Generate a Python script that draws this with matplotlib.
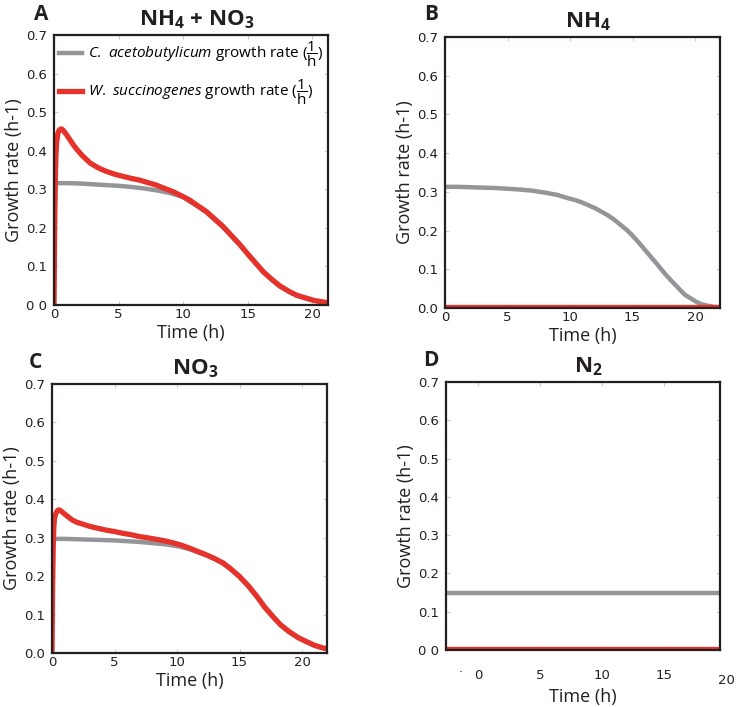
import numpy as np
import matplotlib
matplotlib.use("Agg")
import matplotlib.pyplot as plt

#################################################################
# data
#################################################################

# A: NH4 + NO3
tA_ca = [0, 1, 2, 3, 4, 5, 6, 7, 8, 9, 10, 10.5, 11.1, 11.8, 12.4, 13.1, 13.7, 14.4, 15.0, 15.6, 16.2, 16.9, 17.5, 18.2, 18.8, 19.5, 20.1, 20.8, 21.2]
gA_ca = [0.316, 0.316, 0.315, 0.313, 0.311, 0.309, 0.306, 0.302, 0.297, 0.290, 0.280, 0.268, 0.256, 0.240, 0.222, 0.201, 0.180, 0.155, 0.131, 0.108, 0.085, 0.064, 0.048, 0.034, 0.024, 0.017, 0.011, 0.007, 0.005]
tA_ws = [0, 0.05, 0.1, 0.15, 0.2, 0.3, 0.4, 0.5, 0.6, 0.7, 0.85, 1.0, 1.2, 1.5, 1.8, 2.2, 2.8, 3.4, 4.0, 4.7, 5.4, 6.0, 6.6, 7.2, 7.9, 8.5, 9.2, 9.8, 10.5, 11.1, 11.8, 12.4, 13.1, 13.7, 14.4, 15.0, 15.6, 16.2, 16.9, 17.5, 18.2, 18.8, 19.5, 20.1, 20.8, 21.2]
gA_ws = [0, 0.20, 0.32, 0.39, 0.42, 0.445, 0.453, 0.456, 0.456, 0.453, 0.447, 0.44, 0.43, 0.415, 0.402, 0.387, 0.368, 0.356, 0.347, 0.339, 0.333, 0.328, 0.324, 0.318, 0.311, 0.303, 0.294, 0.284, 0.272, 0.258, 0.242, 0.224, 0.203, 0.181, 0.156, 0.132, 0.109, 0.086, 0.065, 0.049, 0.035, 0.025, 0.018, 0.012, 0.008, 0.006]

# B: NH4
tB_ca = [0, 1, 2, 3, 4, 5, 6, 7, 8, 9, 9.8, 10.5, 11, 11.5, 12, 12.5, 13, 13.5, 14, 14.6, 15, 15.5, 16, 16.5, 17, 17.4, 17.8, 18.3, 18.8, 19.2, 19.7, 20.1, 20.5, 21, 21.5, 22]
gB_ca = [0.313, 0.313, 0.312, 0.311, 0.310, 0.308, 0.306, 0.303, 0.298, 0.292, 0.284, 0.278, 0.272, 0.265, 0.258, 0.249, 0.240, 0.229, 0.216, 0.200, 0.187, 0.169, 0.150, 0.131, 0.112, 0.096, 0.081, 0.064, 0.047, 0.034, 0.024, 0.016, 0.010, 0.006, 0.003, 0.002]
tB_ws = [0, 22]
gB_ws = [0.002, 0.002]

# C: NO3
tC_ca = [0, 1, 2, 3, 4, 5, 6, 7, 8, 9, 9.65, 10.3, 11, 11.6, 12.3, 13.0, 13.7, 14.3, 15, 15.7, 16.4, 17.0, 17.7, 18.3, 19, 19.7, 20.4, 21.0, 21.7, 22]
gC_ca = [0.297, 0.297, 0.296, 0.295, 0.294, 0.293, 0.291, 0.289, 0.286, 0.283, 0.280, 0.276, 0.270, 0.263, 0.255, 0.245, 0.233, 0.218, 0.198, 0.174, 0.146, 0.119, 0.093, 0.072, 0.054, 0.039, 0.028, 0.019, 0.012, 0.010]
tC_ws = [0, 0.05, 0.1, 0.15, 0.2, 0.3, 0.4, 0.5, 0.6, 0.7, 0.85, 1.0, 1.3, 1.63, 2.0, 2.5, 2.97, 3.6, 4.3, 5.0, 5.6, 6.3, 7, 7.6, 8.3, 9.0, 9.65, 10.3, 11, 11.6, 12.3, 13.0, 13.7, 14.3, 15, 15.7, 16.4, 17.0, 17.7, 18.3, 19, 19.7, 20.4, 21.0, 21.7, 22]
gC_ws = [0, 0.18, 0.28, 0.33, 0.35, 0.362, 0.369, 0.372, 0.372, 0.370, 0.366, 0.362, 0.354, 0.346, 0.340, 0.335, 0.330, 0.325, 0.320, 0.316, 0.312, 0.308, 0.303, 0.300, 0.296, 0.292, 0.287, 0.281, 0.273, 0.265, 0.256, 0.246, 0.234, 0.219, 0.199, 0.175, 0.147, 0.120, 0.094, 0.073, 0.055, 0.040, 0.029, 0.020, 0.013, 0.011]

# D: N2 (flat)
tD = [-2.6, 19.5]
gD_ca = [0.148, 0.148]
gD_ws = [0.002, 0.002]

titles = [r"$\mathbf{NH_4}$ + $\mathbf{NO_3}$", r"$\mathbf{NH_4}$", r"$\mathbf{NO_3}$", r"$\mathbf{N_2}$"]
letters = ["A", "B", "C", "D"]
xticks = [0, 5, 10, 15, 20]
yticks = [0, 0.1, 0.2, 0.3, 0.4, 0.5, 0.6, 0.7]
ylabelsStd = ["0.0", "0.1", "0.2", "0.3", "0.4", "0.5", "0.6", "0.7"]
ylabelsOdd = ["0 0", "0.1", "0.2", "0.3", "0.4", "0.5", "0.6", "0.7"]
legLabels = [r"$\mathit{C.\ acetobutylicum}$ growth rate ($\dfrac{1}{\mathrm{h}}$)",
	r"$\mathit{W.\ succinogenes}$ growth rate ($\dfrac{1}{\mathrm{h}}$)"]

GREY = "#939598"
RED = "#e5322a"
SPINE = "#231f20"

plt.rcParams['font.family'] = ['Open Sans', 'DejaVu Sans']
plt.rcParams['mathtext.fontset'] = 'custom'
plt.rcParams['mathtext.rm'] = 'Open Sans'
plt.rcParams['mathtext.it'] = 'Open Sans:italic'
plt.rcParams['mathtext.bf'] = 'Open Sans:bold'

#################################################################
# helper
#################################################################

def setupAx(ax, title, xmax, xmin=0., ylabs=ylabelsStd, xpad=2.5, xlabpad=2.):
	ax.set_xlim(xmin, xmax)
	ax.set_ylim(0, 0.7)
	ax.set_xticks([t for t in xticks if xmin <= t <= xmax])
	ax.set_yticks(yticks)
	ax.set_yticklabels(ylabs)
	ax.tick_params(direction='in', length=3, color='#cccccc', top=True,
		labelsize=9.5, labelfontfamily='DejaVu Sans', labelcolor=SPINE, pad=xpad, axis='x')
	ax.tick_params(direction='in', length=3, color='#cccccc', right=True,
		labelsize=9.5, labelfontfamily='DejaVu Sans', labelcolor=SPINE, pad=5, axis='y')
	for s in ax.spines.values():
		s.set_linewidth(1.6)
		s.set_color(SPINE)
	ax.set_xlabel("Time (h)", fontsize=13, labelpad=xlabpad, color=SPINE)
	ax.set_ylabel("Growth rate (h-1)", fontsize=13, labelpad=2, color=SPINE)
	ax.set_title(title, fontsize=16, fontweight='bold', pad=7, x=0.52, color=SPINE)

#################################################################
# main
#################################################################

fig = plt.figure(figsize=(7.36, 7.07), dpi=100)
W, H = 736., 707.
def axPx(l, t, r, b):
	return fig.add_axes([l/W, 1-b/H, (r-l)/W, (b-t)/H])

axA = axPx(54, 35, 328, 305)
axB = axPx(445, 37, 720, 308)
axC = axPx(52, 384, 327, 653)
axD = axPx(446, 382, 720, 650)

lwG, lwR = 3.2, 3.8

axA.plot(tA_ca, gA_ca, color=GREY, lw=lwG, label=legLabels[0], solid_joinstyle='round')
axA.plot(tA_ws, gA_ws, color=RED, lw=lwR, label=legLabels[1], solid_joinstyle='round')
setupAx(axA, titles[0], 21.2, ylabs=ylabelsOdd)
axA.legend(loc='upper left', frameon=False, fontsize=11, handlelength=1.5, handletextpad=0.4,
	labelspacing=0.5, borderaxespad=0.0, borderpad=0.3)

axB.plot(tB_ca, gB_ca, color=GREY, lw=lwG, solid_joinstyle='round')
axB.plot(tB_ws, gB_ws, color=RED, lw=lwR)
setupAx(axB, titles[1], 22)

axC.plot(tC_ca, gC_ca, color=GREY, lw=lwG, solid_joinstyle='round')
axC.plot(tC_ws, gC_ws, color=RED, lw=lwR, solid_joinstyle='round')
setupAx(axC, titles[2], 22)

axD.plot(tD, gD_ca, color=GREY, lw=lwG)
axD.plot(tD, gD_ws, color=RED, lw=lwR)
setupAx(axD, titles[3], 19.5, xmin=-2.6, ylabs=ylabelsOdd, xpad=14, xlabpad=4)
# the "20" label of D sits beyond the axis end
axD.annotate("20", xy=(20, 0), xycoords=('data', 'axes fraction'), xytext=(0, -17),
	textcoords='offset points', ha='center', va='top', fontsize=9.5, family='DejaVu Sans',
	color=SPINE, annotation_clip=False)
axD.annotate(".", xy=(-1.4, 0), xycoords=('data', 'axes fraction'), xytext=(0, -9),
	textcoords='offset points', ha='center', va='top', fontsize=9, family='DejaVu Sans',
	color=SPINE, annotation_clip=False)

# panel letters
for lab, (px, py) in zip(letters, [(41, 14), (431, 14), (35, 362), (431, 361)]):
	fig.text(px/W, 1-py/H, lab, fontsize=15, fontweight='bold', ha='center', va='center', color=SPINE)

fig.savefig("out.png", dpi=100)
